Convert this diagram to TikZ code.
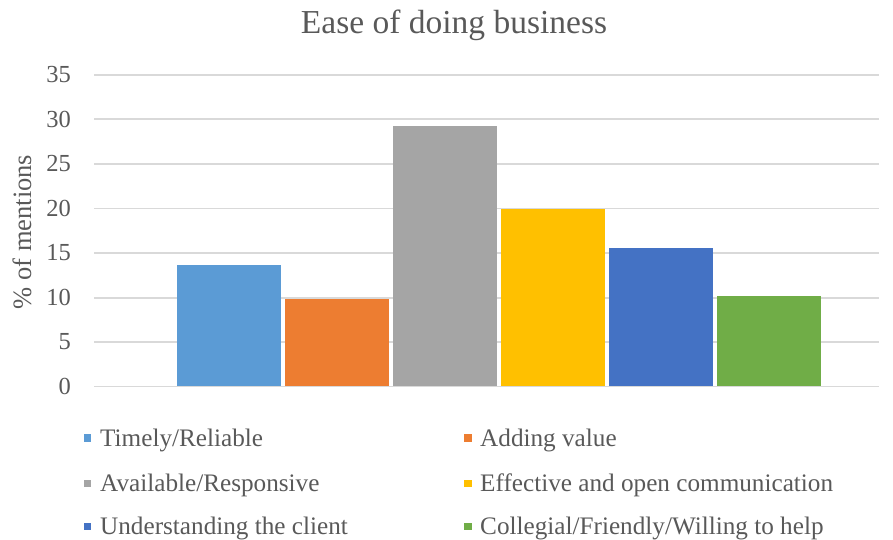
\documentclass[tikz,border=0pt]{standalone}
\usepackage{fontspec}
\setmainfont{Liberation Serif}
\definecolor{txtgray}{HTML}{595959}
\definecolor{gridgray}{HTML}{D9D9D9}
\definecolor{barone}{HTML}{5B9BD5}
\definecolor{bartwo}{HTML}{ED7D31}
\definecolor{barthree}{HTML}{A5A5A5}
\definecolor{barfour}{HTML}{FFC000}
\definecolor{barfive}{HTML}{4472C4}
\definecolor{barsix}{HTML}{70AD47}
\tikzset{
  ticklab/.style={anchor=east,text=txtgray,font=\fontsize{24.5}{28}\selectfont,inner sep=0pt},
  legtext/.style={anchor=base west,text=txtgray,font=\fontsize{25.2}{29}\selectfont,inner sep=0pt},
  gridline/.style={gridgray,line width=1.8pt},
  legmark/.style={minimum size=7.5pt,inner sep=0pt}
}
\begin{document}
\begin{tikzpicture}[x=1pt,y=-1pt]
\useasboundingbox (0,0) rectangle (893,540);

%titolo
\node[text=txtgray,font=\fontsize{33.5}{38}\selectfont,inner sep=0pt] (title) at (454,25) {Ease of doing business};
\node[text=txtgray,font=\fontsize{26.5}{30}\selectfont,rotate=90,inner sep=0pt] (ylab) at (22,232) {\% of mentions};

%griglia
\draw[gridline] (94,386.5) -- (879,386.5);
\draw[gridline] (94,342) -- (879,342);
\draw[gridline] (94,297.7) -- (879,297.7);
\draw[gridline] (94,253) -- (879,253);
\draw[gridline] (94,208.4) -- (879,208.4);
\draw[gridline] (94,164) -- (879,164);
\draw[gridline] (94,119.4) -- (879,119.4);
\draw[gridline] (94,75) -- (879,75);

%etichette asse y
\node[ticklab] (t0) at (71,386.5) {0};
\node[ticklab] (t5) at (71,342) {5};
\node[ticklab] (t10) at (71,297.7) {10};
\node[ticklab] (t15) at (71,253) {15};
\node[ticklab] (t20) at (71,208.4) {20};
\node[ticklab] (t25) at (71,164) {25};
\node[ticklab] (t30) at (71,119.4) {30};
\node[ticklab] (t35) at (71,75) {35};

%barre
\fill[barone] (177,386) rectangle (281,265);
\fill[bartwo] (285,386) rectangle (389,299);
\fill[barthree] (393,386) rectangle (497,126);
\fill[barfour] (501,386) rectangle (605,208.5);
\fill[barfive] (609,386) rectangle (713,248.3);
\fill[barsix] (717,386) rectangle (821,296.3);

%legenda
\node[legmark,fill=barone] (m1) at (87.5,438) {};
\node[legtext] (l1) at (100,446.5) {Timely/Reliable};
\node[legmark,fill=bartwo] (m2) at (468,438) {};
\node[legtext] (l2) at (480,446.5) {Adding value};
\node[legmark,fill=barthree] (m3) at (87.5,483.5) {};
\node[legtext] (l3) at (100,491.5) {Available/Responsive};
\node[legmark,fill=barfour] (m4) at (468,483.5) {};
\node[legtext] (l4) at (480,491.5) {Effective and open communication};
\node[legmark,fill=barfive] (m5) at (87.5,526.5) {};
\node[legtext] (l5) at (100,534.5) {Understanding the client};
\node[legmark,fill=barsix] (m6) at (468,526.5) {};
\node[legtext] (l6) at (480,534.5) {Collegial/Friendly/Willing to help};

\end{tikzpicture}
\end{document}
